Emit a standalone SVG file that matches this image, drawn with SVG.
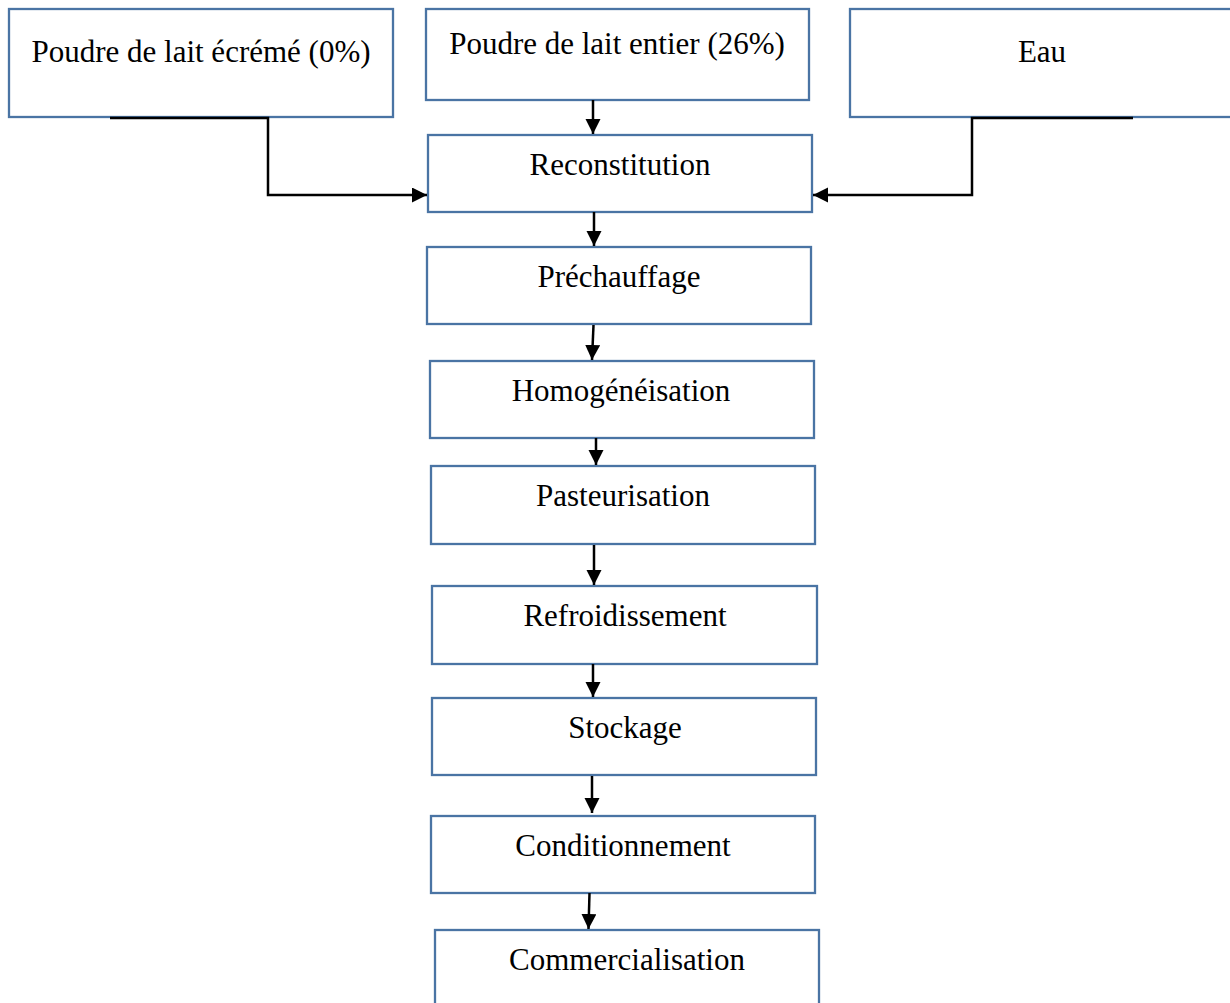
<svg xmlns="http://www.w3.org/2000/svg" width="1230" height="1003" viewBox="0 0 1230 1003">
<style>
.box{fill:#fff;stroke:#4a74a4;stroke-width:2.3}
.lbl{font-family:"Liberation Serif","Times New Roman",serif;font-size:31px;fill:#000;text-anchor:middle}
.con{fill:none;stroke:#000;stroke-width:2.5;marker-end:url(#ah)}
</style>
<defs>
<marker id="ah" markerUnits="userSpaceOnUse" markerWidth="18" markerHeight="16" refX="15" refY="7.5" orient="auto">
<path d="M0,0 L15,7.5 L0,15 Z" fill="#000"/>
</marker>
</defs>
<rect width="1230" height="1003" fill="#fff"/>
<g id="n-ecreme"><rect class="box" x="9" y="9" width="384" height="108"/><text class="lbl" x="201" y="62">Poudre de lait écrémé (0%)</text></g>
<g id="n-entier"><rect class="box" x="426" y="9" width="383" height="91"/><text class="lbl" x="617" y="54">Poudre de lait entier (26%)</text></g>
<g id="n-eau"><rect class="box" x="850" y="9" width="390" height="108"/><text class="lbl" x="1042" y="62">Eau</text></g>
<g id="n-reconstitution"><rect class="box" x="428" y="135" width="384" height="77"/><text class="lbl" x="620" y="175">Reconstitution</text></g>
<g id="n-prechauffage"><rect class="box" x="427" y="247" width="384" height="77"/><text class="lbl" x="619" y="287">Préchauffage</text></g>
<g id="n-homogeneisation"><rect class="box" x="430" y="361" width="384" height="77"/><text class="lbl" x="621" y="401">Homogénéisation</text></g>
<g id="n-pasteurisation"><rect class="box" x="431" y="466" width="384" height="78"/><text class="lbl" x="623" y="506">Pasteurisation</text></g>
<g id="n-refroidissement"><rect class="box" x="432" y="586" width="385" height="78"/><text class="lbl" x="625" y="626">Refroidissement</text></g>
<g id="n-stockage"><rect class="box" x="432" y="698" width="384" height="77"/><text class="lbl" x="625" y="738">Stockage</text></g>
<g id="n-conditionnement"><rect class="box" x="431" y="816" width="384" height="77"/><text class="lbl" x="623" y="856">Conditionnement</text></g>
<g id="n-commercialisation"><rect class="box" x="435" y="930" width="384" height="80"/><text class="lbl" x="627" y="970">Commercialisation</text></g>
<g id="connectors">
<path class="con" d="M110,118 H268 V195 H427"/>
<path class="con" d="M1133,118 H972 V195 H813"/>
<path class="con" d="M593,100 V134"/>
<path class="con" d="M594,212 V246"/>
<path class="con" d="M593.5,325 L592,360"/>
<path class="con" d="M596,438 V465"/>
<path class="con" d="M594,545 V585"/>
<path class="con" d="M593,664 V697"/>
<path class="con" d="M592,776 V813"/>
<path class="con" d="M589.5,893 L588.5,929"/>
</g>
</svg>
